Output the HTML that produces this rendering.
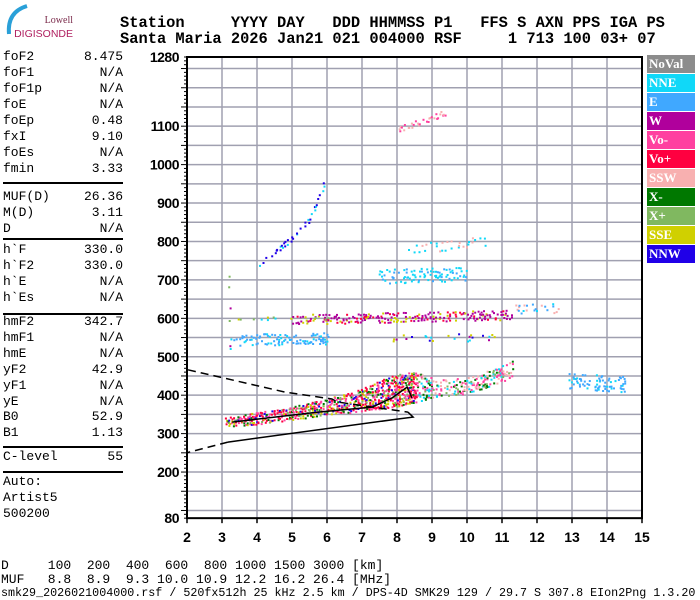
<!DOCTYPE html>
<html><head><meta charset="utf-8"><style>
html,body{margin:0;padding:0;background:#fff;}
body{width:700px;height:600px;position:relative;overflow:hidden;font-family:"Liberation Mono","DejaVu Sans Mono",monospace;}
.t{position:absolute;white-space:pre;color:#000;}
.lp{font-size:13px;line-height:13px;}
.hd{font-size:15.4px;font-weight:bold;line-height:16px;}
.sep{position:absolute;left:3px;width:120px;height:2px;background:#000;}
.lg{position:absolute;left:647px;width:48px;height:18px;color:#fff;font:bold 13px "Liberation Serif",serif;line-height:18px;padding-left:2px;box-sizing:border-box;}
</style></head><body>
<div style="position:absolute;left:3px;top:4px;width:72px;height:34px;">
<svg width="72" height="34"><path d="M6 30 Q4 8 24 2" stroke="#2aa0d8" stroke-width="4" fill="none"/>
<text x="70" y="19" text-anchor="end" font-family="Liberation Serif" font-size="10" fill="#7a2a4a">Lowell</text>
<text x="70" y="33" text-anchor="end" font-family="Liberation Sans" font-size="10.5" fill="#b02060">DIGISONDE</text></svg></div>
<div class="t hd" style="left:120px;top:15px;">Station     YYYY DAY   DDD HHMMSS P1   FFS S AXN PPS IGA PS</div>
<div class="t hd" style="left:120px;top:31px;">Santa Maria 2026 Jan21 021 004000 RSF     1 713 100 03+ 07</div>
<div id="left"></div>
<div class="t lp" style="left:1px;top:559px;">D     100  200  400  600  800 1000 1500 3000 [km]</div>
<div class="t lp" style="left:1px;top:573px;">MUF   8.8  8.9  9.3 10.0 10.9 12.2 16.2 26.4 [MHz]</div>
<div class="t" style="left:1px;top:587px;font-size:11.7px;line-height:12px;">smk29_2026021004000.rsf / 520fx512h 25 kHz 2.5 km / DPS-4D SMK29 129 / 29.7 S 307.8 EIon2Png 1.3.20</div>
<div>
<div class="lg" style="top:55px;background:#8c8c8c">NoVal</div>
<div class="lg" style="top:74px;background:#10d8f8">NNE</div>
<div class="lg" style="top:93px;background:#40a8ff">E</div>
<div class="lg" style="top:112px;background:#b0009c">W</div>
<div class="lg" style="top:131px;background:#ff40a0">Vo-</div>
<div class="lg" style="top:150px;background:#ff0040">Vo+</div>
<div class="lg" style="top:169px;background:#f8b0b0">SSW</div>
<div class="lg" style="top:188px;background:#007800">X-</div>
<div class="lg" style="top:207px;background:#80b860">X+</div>
<div class="lg" style="top:226px;background:#d0d000">SSE</div>
<div class="lg" style="top:245px;background:#2000e8">NNW</div>
</div>
<svg id="chart" width="700" height="600" style="position:absolute;left:0;top:0;"></svg>
<script>
const params=[["foF2","8.475",57],["foF1","N/A",73],["foF1p","N/A",89],["foE","N/A",105],["foEp","0.48",121],["fxI","9.10",137],["foEs","N/A",153],["fmin","3.33",169],
["MUF(D)","26.36",197],["M(D)","3.11",213],["D","N/A",229],
["h`F","330.0",250],["h`F2","330.0",266],["h`E","N/A",282],["h`Es","N/A",298],
["hmF2","342.7",322],["hmF1","N/A",338],["hmE","N/A",354],["yF2","42.9",370],["yF1","N/A",386],["yE","N/A",402],["B0","52.9",417],["B1","1.13",433],
["C-level","55",457],["Auto:","",482],["Artist5","",498],["500200","",514]];
const seps=[182,238,313,446,471];
const L=document.getElementById('left');
params.forEach(p=>{const a=document.createElement('div');a.className='t lp';a.style.left='3px';a.style.top=(p[2]-7)+'px';a.textContent=p[0];


L.appendChild(a);
if(p[1]){const b=document.createElement('div');b.className='t lp';b.style.right=(700-123)+'px';b.style.top=(p[2]-7)+'px';b.textContent=p[1];


L.appendChild(b);}});
seps.forEach(y=>{const s=document.createElement('div');s.className='sep';s.style.top=y+'px';


L.appendChild(s);});

// chart data
const xTicks=[2,3,4,5,6,7,8,9,10,11,12,13,14,15];
const yTickLabels=[80,200,300,400,500,600,700,800,900,1000,1100,1280];
// O trace band: [freq, lowKm, highKm]
const oTrace=[[3.1,322,345],[4,328,356],[5,340,372],[6,352,392],[7,362,418],[7.5,368,440],[8,374,456],[8.5,384,462],[9,395,445],[9.5,402,440],[10,410,450],[10.5,420,462],[11,440,480],[11.3,452,490]];
const oColors=["#ff0040","#ff40a0","#007800","#d0d000","#ff0040","#80b860","#2000e8","#ff40a0","#ff0040"];
const oColorsHigh=["#ff40a0","#10d8f8","#007800","#ff40a0","#80b860","#f8b0b0"];
// other echo bands: centre points [freq, km], width km, density
const bands=[
 {name:"e-550",pts:[[3.2,548],[6,552]],w:30,c:["#40a8ff","#10d8f8","#40a8ff"],d:0.3},
 {name:"w-610",pts:[[5,600],[8,606],[11.3,612]],w:24,c:["#b0009c","#b0009c","#ff0040","#d0d000","#b0009c"],d:0.4},
 {name:"w-550",pts:[[7.5,550],[11,552]],w:16,c:["#b0009c","#d0d000","#2000e8","#10d8f8"],d:0.12},
 {name:"nne-720",pts:[[7.5,712],[10,718]],w:34,c:["#10d8f8","#10d8f8","#40a8ff"],d:0.25},
 {name:"nne-790",pts:[[8.2,780],[10.5,805]],w:24,c:["#10d8f8","#f8b0b0"],d:0.15},
 {name:"nne-630",pts:[[11.4,628],[12.6,630]],w:26,c:["#10d8f8","#40a8ff","#f8b0b0"],d:0.25},
 {name:"e-440",pts:[[12.9,440],[14.5,432]],w:40,c:["#40a8ff","#40a8ff","#10d8f8"],d:0.35},
 {name:"nnw-trace",pts:[[4,740],[4.5,775],[5,815],[5.5,862],[5.9,950]],w:14,c:["#2000e8","#2000e8","#10d8f8"],d:0.35},
 {name:"ssw-trace",pts:[[8,1095],[8.6,1112],[9.4,1140]],w:14,c:["#f8b0b0","#f8b0b0","#ff40a0"],d:0.35},
 {name:"vert-32",pts:[[3.2,520],[3.2,720]],w:4,c:["#b0009c","#10d8f8","#80b860"],d:0.25},
 {name:"g-600",pts:[[3.2,604],[6,606]],w:10,c:["#10d8f8","#80b860","#d0d000"],d:0.12}
];
const upperDashed=[[2.03,466],[4.8,408],[6.14,390],[6.31,382],[8.31,356]];
const loopSolid=[[8.31,356],[8.46,343],[8.03,338],[3.17,278]];
const lowerDashed=[[3.17,278],[1.99,250]];
const innerLine=[[3.29,330],[5.74,356],[7.29,369],[7.86,393],[8.29,421],[8.43,393]];

const X=f=>187+(f-2)*35, Y=h=>57+(1280-h)*0.3843;
const svg=document.getElementById('chart');const NS="http://www.w3.org/2000/svg";
function el(t,a,p){const e=document.createElementNS(NS,t);for(const k in a)e.setAttribute(k,a[k]);(p||svg).appendChild(e);return e;}
function tex(i){const s=Math.sin(i*12.9898)*43758.5453;return s-Math.floor(s);} // texture hash
const grid=el('g',{});
xTicks.forEach(f=>{const l=el('line',{x1:X(f),x2:X(f),y1:Y(1280),y2:Y(80),stroke:"#a0a0b0","stroke-width":1.5},grid);});
for(let h=100;h<1280;h+=50){const l=el('line',{x1:X(2),x2:X(15),y1:Y(h),y2:Y(h),stroke:"#a0a0b0","stroke-width":1.5},grid);}
const marks=el('g',{});
function dot(f,h,c){const r=el('rect',{x:X(f).toFixed(1),y:Y(h).toFixed(1),width:2,height:2,fill:c},marks);}
let k=0;
for(let i=0;i<oTrace.length-1;i++){const a=oTrace[i],b=oTrace[i+1];
 for(let f=a[0];f<b[0];f+=0.057){const t=(f-a[0])/(b[0]-a[0]);const lo=a[1]+(b[1]-a[1])*t,hi=a[2]+(b[2]-a[2])*t;
  const hiF=f>8.6;const den=hiF?0.45:0.7;
  for(let h=lo;h<hi;h+=5.2){k++;if(tex(k)>den)continue;const pal=hiF?oColorsHigh:oColors;dot(f+(tex(k+7)-0.5)*0.05,h+(tex(k+3)-0.5)*5,pal[Math.floor(tex(k+11)*pal.length)]);}}}
bands.forEach(bd=>{for(let i=0;i<bd.pts.length-1;i++){const a=bd.pts[i],b=bd.pts[i+1];const df=b[0]-a[0];
 const n=df===0?Math.abs(b[1]-a[1])/5.2:df/0.057;
 for(let s=0;s<n;s++){const t=s/n;const f=a[0]+df*t,hc=a[1]+(b[1]-a[1])*t;
  for(let h=hc-bd.w/2;h<hc+bd.w/2;h+=5.2){k++;if(tex(k)>bd.d)continue;dot(f+(tex(k+5)-0.5)*0.05,h+(tex(k+9)-0.5)*5,bd.c[Math.floor(tex(k+13)*bd.c.length)]);}}}});
function path(pts,dash,name){const d=pts.map((p,i)=>(i?'L':'M')+X(p[0]).toFixed(1)+' '+Y(p[1]).toFixed(1)).join(' ');
 const e=el('path',{d:d,fill:"none",stroke:"#000","stroke-width":1.5,"stroke-dasharray":dash||"none"});}
path(upperDashed,"8 5","profile-dashed-upper");path(loopSolid,null,"profile-solid");path(lowerDashed,"8 5","profile-dashed-lower");path(innerLine,null,"trace-fit-line");
const ax=el('g',{});
el('rect',{x:X(2),y:Y(1280),width:X(15)-X(2),height:Y(80)-Y(1280),fill:"none",stroke:"#000","stroke-width":2},ax);
for(let h=80;h<=1280;h+=10){el('line',{x1:X(2)-(h%50===0?6:3),x2:X(2),y1:Y(h),y2:Y(h),stroke:"#000"},ax);}
xTicks.forEach(f=>{el('line',{x1:X(f),x2:X(f),y1:Y(80),y2:Y(80)+5,stroke:"#000","stroke-width":1.5},ax);
 const t=el('text',{x:X(f),y:542,"text-anchor":"middle","font-family":"Liberation Sans","font-weight":"bold","font-size":14},ax);t.textContent=f;});
yTickLabels.forEach(h=>{const t=el('text',{x:X(2)-8,y:Y(h)+5,"text-anchor":"end","font-family":"Liberation Sans","font-weight":"bold","font-size":14,"letter-spacing":"-0.5"},ax);t.textContent=h;});
</script>
</body></html>
